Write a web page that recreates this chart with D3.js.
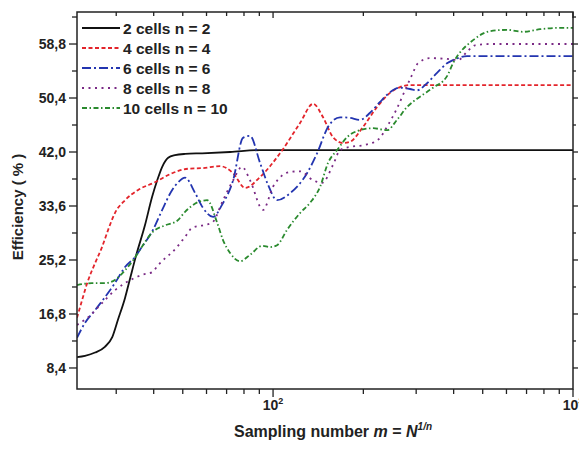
<!DOCTYPE html>
<html><head><meta charset="utf-8">
<script src="https://cdn.jsdelivr.net/npm/d3@7"></script>
<style>body{margin:0;background:#fff}svg{display:block}text{font-family:"Liberation Sans",Arial,sans-serif;font-weight:bold}</style>
</head><body><svg id="c" width="579" height="455"></svg>
<script>
const seriesNames = ["2 cells n = 2","4 cells n = 4","6 cells n = 6","8 cells n = 8","10 cells n = 10"];
const x2 = [22.2,23.6,25.5,27.5,29.1,30.4,32.1,33.4,34.9,37.4,39.5,41.1,42.7,44.7,47.1,50.9,58.0,71.9,90.5,123,265,1000];
const y2 = [10.1,10.3,10.8,11.7,13.2,15.9,19.3,22.4,25.8,30.6,35.0,37.6,39.7,41.1,41.5,41.7,41.8,42.0,42.3,42.3,42.3,42.3];
const x4 = [22.2,23.1,24.0,25.5,26.9,28.2,29.7,32.1,35.5,40.4,46.1,52.1,58.4,66.6,73.6,80.7,90.5,105.5,123.0,136.0,146.8,158.5,171.2,180.6,199.5,222.2,245.5,265.0,286.2,341.5,1000];
const y4 = [16.2,19.0,21.6,24.7,27.2,29.9,32.5,34.5,36.1,37.3,38.7,39.4,39.5,39.8,38.7,36.4,38.1,41.8,46.5,49.5,47.4,44.3,43.4,43.6,45.9,49.0,51.2,52.1,52.4,52.4,52.4];
const x6 = [22.2,23.6,25.5,27.5,29.7,32.1,34.7,36.0,39.8,42.7,46.1,48.3,50.9,55.0,58.4,63.1,67.6,73.6,79.4,83.8,90.5,96.2,103.1,114.0,129.8,140.2,152.5,167.3,180.6,195.0,210.6,227.4,245.5,265.0,286.2,302.0,326.1,352.1,380.2,398.1,443.3,489.8,1000];
const y6 = [13.1,15.4,17.4,19.4,21.6,24.1,25.7,26.8,29.9,33.0,36.1,37.3,38.0,35.6,33.3,31.9,33.8,37.6,44.2,44.5,40.3,36.9,34.5,35.6,38.7,41.8,45.9,47.4,47.3,47.0,48.1,49.8,51.3,52.0,51.8,51.6,52.7,54.3,55.8,56.3,56.9,56.9,56.9];
const x8 = [22.2,24.2,26.9,29.7,32.1,36.6,39.5,41.4,43.7,46.1,50.9,53.7,58.4,62.6,68.1,73.6,78.8,83.8,92.6,100,114.0,123.0,136.0,145.7,158.5,167.3,180.6,202.6,223.9,241.7,259.0,275.4,290.6,304.3,333.7,374.4,413.7,443.3,471.4,528.9,1000];
const y8 = [15.1,16.3,18.5,20.5,21.6,22.9,23.3,24.4,25.5,26.4,28.8,30.2,30.6,31.0,34.5,37.6,39.7,37.6,33.0,36.6,38.9,39.0,37.6,37.2,40.0,42.3,42.8,43.1,43.9,46.2,48.8,51.6,54.0,55.8,56.6,56.5,56.3,57.6,58.6,58.8,58.8];
const x10 = [22.2,24.9,27.5,29.7,32.1,34.2,36.0,39.8,43.7,47.9,50.9,56.2,60.3,65.1,68.1,71.9,77.6,83.8,91.9,97.7,103.1,111.4,123.0,132.9,143.5,152.5,163.5,176.5,195.0,215.4,239.9,259.0,279.7,309.0,341.5,380.2,398.1,464.2,528.9,602.6,681.3,776.2,884.5,1000];
const y10 = [21.3,21.6,21.6,22.1,23.6,25.2,26.8,29.6,30.6,31.3,32.7,34.2,34.5,31.0,28.3,26.3,25.0,26.0,27.4,27.2,27.5,29.9,32.5,34.1,36.6,40.3,42.3,44.3,45.4,45.7,45.4,47.0,49.0,50.6,52.0,53.8,55.8,59.4,60.8,61.0,60.7,61.1,61.3,61.3];
const yTicks = [8.4,16.8,25.2,33.6,42.0,50.4,58.8];
const yTickLabels = ["8,4","16,8","25,2","33,6","42,0","50,4","58,8"];
const yMinor = [12.6,21.0,29.4,37.8,46.2,54.6,63.0];
const xMajor = [100,1000];
const xMinor = [30,40,50,60,70,80,90,200,300,400,500,600,700,800,900];

const styles = [
  {c:"#111111", d:null},
  {c:"#e3242b", d:"4,2.5"},
  {c:"#2335b0", d:"9,3,2,3"},
  {c:"#7a2a85", d:"2,4.5"},
  {c:"#2a8a2e", d:"5,2.5,1.5,2.5"}
];
const series = [[x2,y2],[x4,y4],[x6,y6],[x8,y8],[x10,y10]];

const L=77,R=573,T=12,B=389;
const svg = d3.select("#c");
const x = d3.scaleLog().domain([22.2,1000]).range([L,R]);
const y = d3.scaleLinear().domain([5.13,63.78]).range([B,T]);

svg.append("clipPath").attr("id","pc").append("rect").attr("x",L).attr("y",T).attr("width",R-L).attr("height",B-T);
const line = d3.line().x(d=>x(d[0])).y(d=>y(d[1])).curve(d3.curveMonotoneX);
const g = svg.append("g").attr("clip-path","url(#pc)");
series.forEach((s,i)=>{
  const pts = s[0].map((v,j)=>[v,s[1][j]]);
  g.append("path").attr("d",line(pts)).attr("fill","none")
   .attr("stroke",styles[i].c).attr("stroke-width",1.8)
   .attr("stroke-dasharray",styles[i].d);
});

svg.append("rect").attr("x",L).attr("y",T).attr("width",R-L).attr("height",B-T)
  .attr("fill","none").attr("stroke","#222").attr("stroke-width",1.5);

const ax = svg.append("g").attr("stroke","#222").attr("stroke-width",1.3);
xMajor.forEach(v=>{ax.append("line").attr("x1",x(v)).attr("x2",x(v)).attr("y1",B).attr("y2",B+8);
  ax.append("line").attr("x1",x(v)).attr("x2",x(v)).attr("y1",T).attr("y2",T+6);});
xMinor.forEach(v=>{ax.append("line").attr("x1",x(v)).attr("x2",x(v)).attr("y1",B).attr("y2",B+5);
  ax.append("line").attr("x1",x(v)).attr("x2",x(v)).attr("y1",T).attr("y2",T+4);});
yTicks.forEach(v=>{ax.append("line").attr("x1",L-8).attr("x2",L).attr("y1",y(v)).attr("y2",y(v));
  ax.append("line").attr("x1",R).attr("x2",R+5).attr("y1",y(v)).attr("y2",y(v));});
yMinor.forEach(v=>{ax.append("line").attr("x1",L-5).attr("x2",L).attr("y1",y(v)).attr("y2",y(v));
  ax.append("line").attr("x1",R).attr("x2",R+3).attr("y1",y(v)).attr("y2",y(v));});

yTicks.forEach((v,i)=>{svg.append("text").attr("x",L-11).attr("y",y(v)+5).attr("text-anchor","end")
  .attr("font-size",14).attr("fill","#222").text(yTickLabels[i]);});
xMajor.forEach(v=>{const t=svg.append("text").attr("x",x(v)).attr("y",410).attr("text-anchor","middle")
  .attr("font-size",14).attr("fill","#222");
  t.append("tspan").text("10");
  t.append("tspan").attr("dy",-6).attr("font-size",9).text(String(Math.round(Math.log10(v))));});

const xt = svg.append("text").attr("x",333).attr("y",437).attr("text-anchor","middle").attr("font-size",16).attr("fill","#222");
xt.append("tspan").text("Sampling number ");
xt.append("tspan").attr("font-style","italic").text("m");
xt.append("tspan").text(" = ");
xt.append("tspan").attr("font-style","italic").text("N");
xt.append("tspan").attr("font-style","italic").attr("font-size",10).attr("dy",-7).text("1/n");
svg.append("text").attr("transform","translate(23,207) rotate(-90)").attr("text-anchor","middle")
  .attr("font-size",15).attr("fill","#222").text("Efficiency ( % )");

seriesNames.forEach((n,i)=>{
  const yy = 28 + i*20;
  svg.append("line").attr("x1",82).attr("x2",120).attr("y1",yy).attr("y2",yy)
    .attr("stroke",styles[i].c).attr("stroke-width",1.8).attr("stroke-dasharray",styles[i].d);
  svg.append("text").attr("x",123).attr("y",yy+5.5).attr("font-size",15.5).attr("fill","#222").text(n);
});
</script></body></html>
